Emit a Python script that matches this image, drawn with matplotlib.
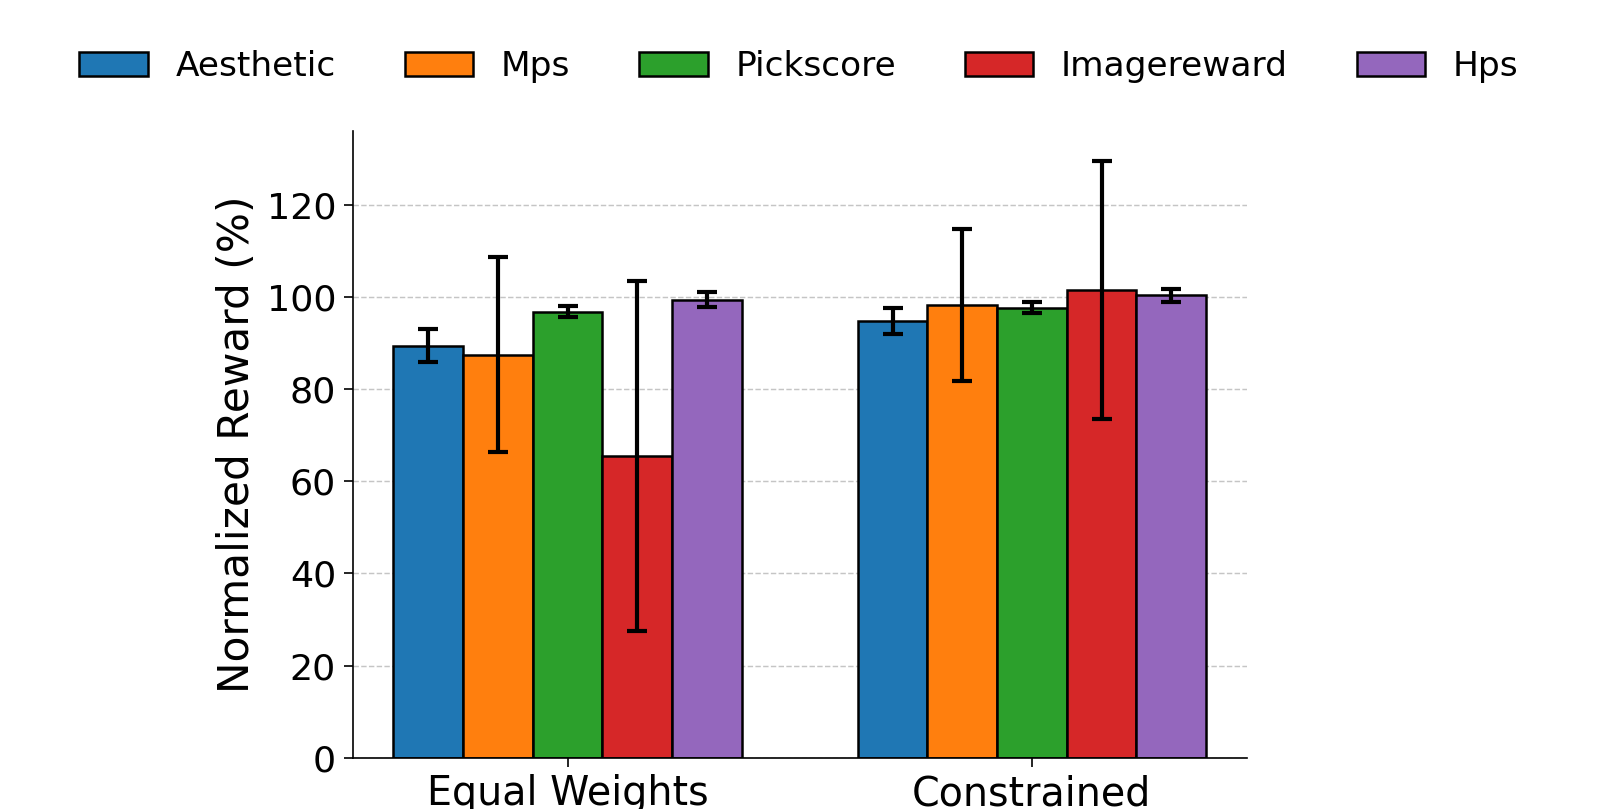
import numpy as np
import matplotlib
matplotlib.use('Agg')
import matplotlib.pyplot as plt

# values
groups = ['Equal Weights', 'Constrained']
metrics = ['Aesthetic', 'Mps', 'Pickscore', 'Imagereward', 'Hps']
means = {
    'Aesthetic':   [89.4, 94.8],
    'Mps':         [87.5, 98.3],
    'Pickscore':   [96.8, 97.7],
    'Imagereward': [65.5, 101.6],
    'Hps':         [99.4, 100.4],
}
errors = {
    'Aesthetic':   [3.6, 2.8],
    'Mps':         [21.1, 16.5],
    'Pickscore':   [1.2, 1.1],
    'Imagereward': [38.0, 28.0],
    'Hps':         [1.6, 1.4],
}
colors = ['#1f77b4', '#ff7f0e', '#2ca02c', '#d62728', '#9467bd']

fig = plt.figure(figsize=(1612 / 150, 809 / 150), dpi=150)
ax = fig.add_axes([0.2188, 0.0634, 0.5546, 0.7751])

x = np.arange(len(groups))
width = 0.15
for i, m in enumerate(metrics):
    offset = (i - 2) * width
    ax.bar(x + offset, means[m], width, yerr=errors[m], label=m,
           color=colors[i], edgecolor='black', linewidth=1.2,
           capsize=5, error_kw={'elinewidth': 2, 'capthick': 2})

ax.set_xticks(x)
ax.set_xticklabels(groups, fontsize=19)
ax.tick_params(axis='y', labelsize=17.5, length=4.5)
ax.tick_params(axis='x', length=4.5)
ax.set_ylabel('Normalized Reward (%)', fontsize=20.3)
ax.grid(axis='y', linestyle='--', color='gray', alpha=0.45, linewidth=0.7)
ax.set_axisbelow(True)
ax.spines['top'].set_visible(False)
ax.spines['right'].set_visible(False)

fig.legend(loc='center', bbox_to_anchor=(0.4956, 0.918), ncol=5,
           frameon=False, fontsize=16.5)

fig.savefig('out.png', dpi=150)
